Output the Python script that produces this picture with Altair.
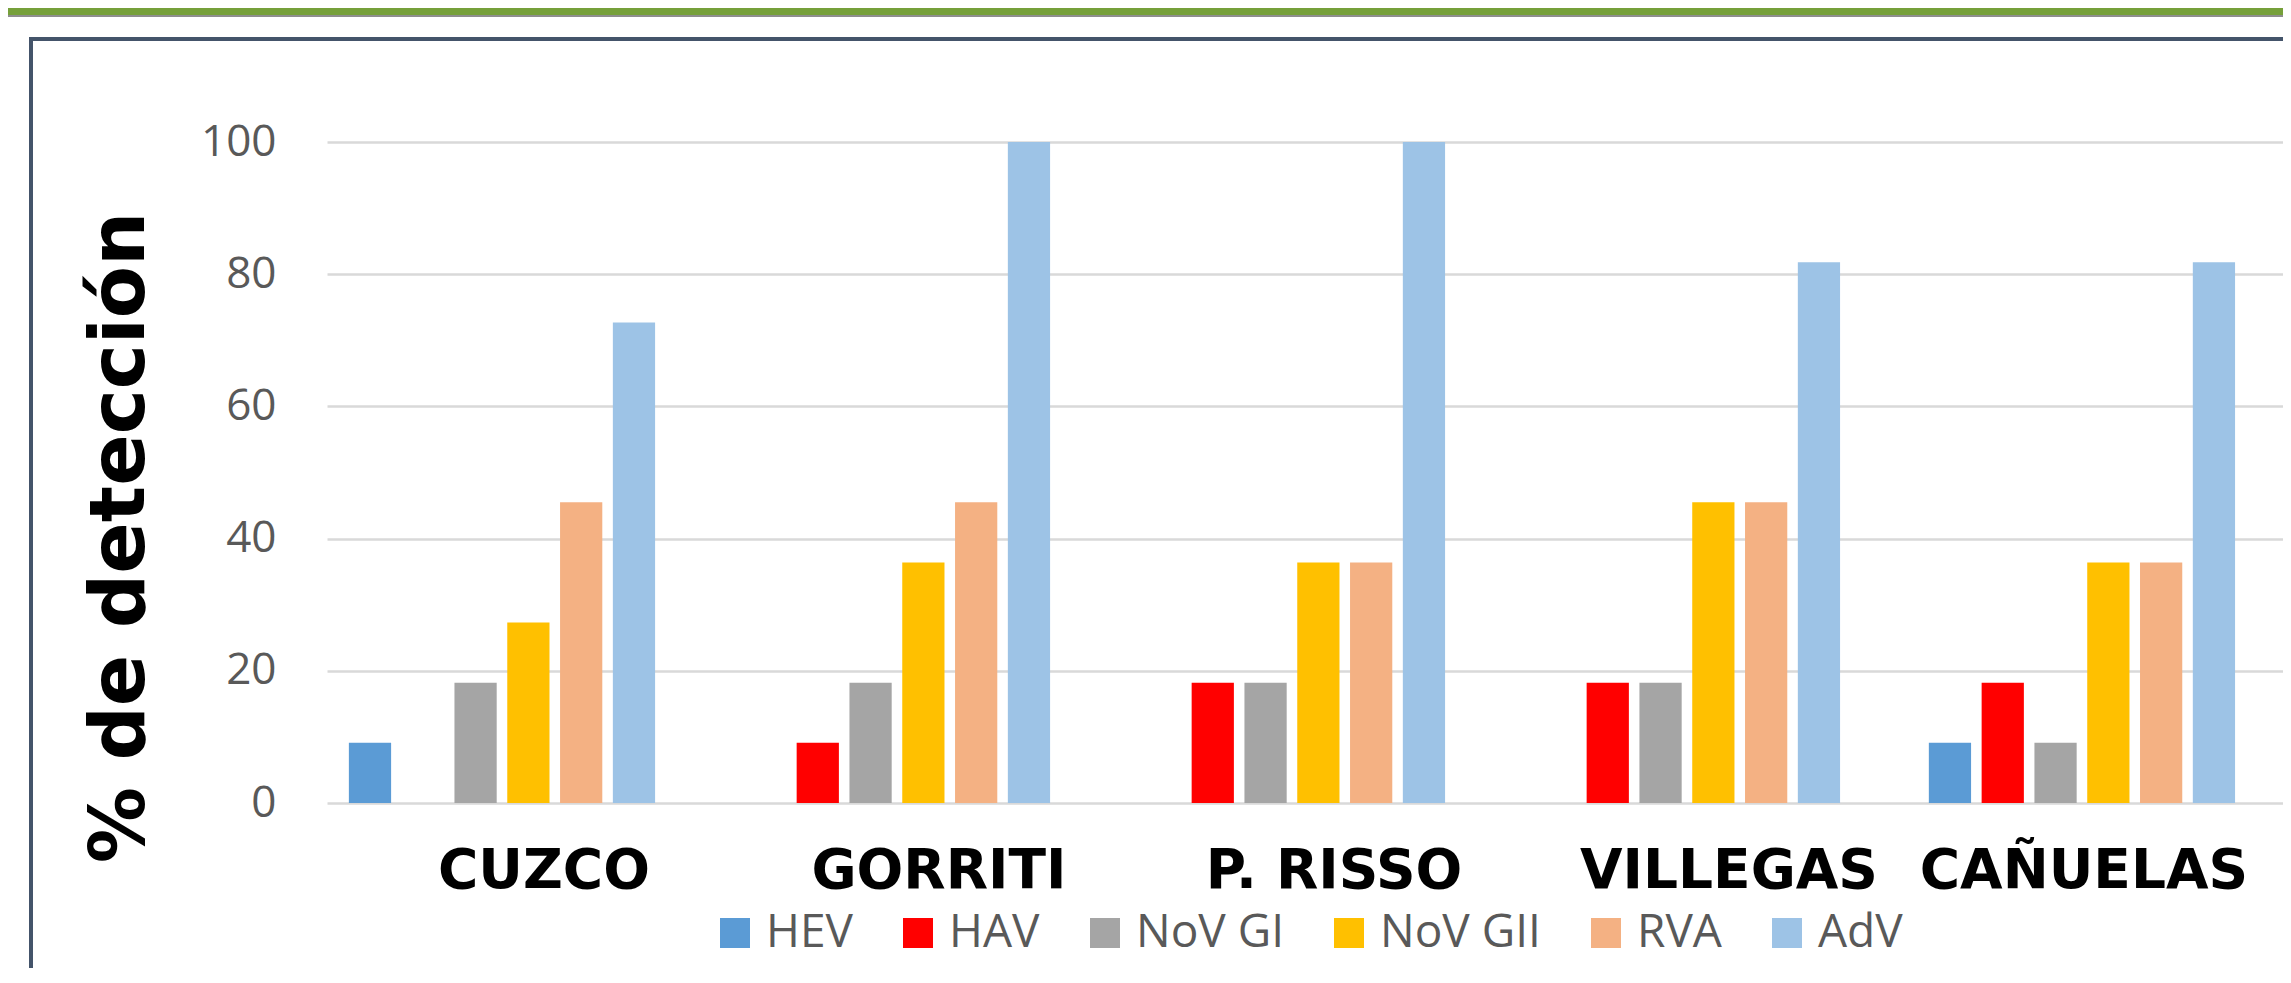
import altair as alt
import pandas as pd

sites = ["CUZCO", "GORRITI", "P. RISSO", "VILLEGAS", "CAÑUELAS"]
viruses = ["HEV", "HAV", "NoV GI", "NoV GII", "RVA", "AdV"]
colors = ["#5B9BD5", "#FF0000", "#A5A5A5", "#FFC000", "#F4B183", "#9DC3E6"]

hev = [9.1, 0, 0, 0, 9.1]
hav = [0, 9.1, 18.2, 18.2, 18.2]
nov_gi = [18.2, 18.2, 18.2, 18.2, 9.1]
nov_gii = [27.3, 36.4, 36.4, 45.5, 36.4]
rva = [45.5, 45.5, 36.4, 45.5, 36.4]
adv = [72.7, 100, 100, 81.8, 81.8]

y_ticks = [0, 20, 40, 60, 80, 100]
y_title = "% de detección"

series = [hev, hav, nov_gi, nov_gii, rva, adv]
rows = []
for v, vals in zip(viruses, series):
    for s, val in zip(sites, vals):
        rows.append({"site": s, "virus": v, "value": val})
df = pd.DataFrame(rows)

W, H = 1956, 661
PL, PT = 319, 134

deco_df = pd.DataFrame({"k": [0]})
base_deco = alt.Chart(deco_df)

green = base_deco.mark_rect(color="#76A03A").encode(
    x=alt.value(-PL), x2=alt.value(W + 10), y=alt.value(-PT), y2=alt.value(-PT + 7)
)
gray = base_deco.mark_rect(color="#8E8E8E").encode(
    x=alt.value(-PL), x2=alt.value(W + 10), y=alt.value(-PT + 7), y2=alt.value(-PT + 9)
)
border = base_deco.mark_rect(filled=False, stroke="#44546A", strokeWidth=4).encode(
    x=alt.value(-296), x2=alt.value(W + 60), y=alt.value(-103), y2=alt.value(H + 250)
)

bars = alt.Chart(df).mark_bar().encode(
    x=alt.X(
        "site:N",
        sort=sites,
        title=None,
        scale=alt.Scale(paddingInner=0.198, paddingOuter=0.075, align=0.28),
        axis=alt.Axis(
            domain=False,
            ticks=False,
            grid=False,
            labelAngle=0,
            labelFont="DejaVu Sans",
            labelFontWeight="bold",
            labelFontSize=55,
            labelColor="#000000",
            labelPadding=41,
            labelOffset={
                "condition": {"test": "datum.value === 'CAÑUELAS'", "value": 2},
                "value": 42,
            },
            labelLimit=1000,
            labelOverlap=False,
        ),
    ),
    xOffset=alt.XOffset(
        "virus:N", sort=viruses, scale=alt.Scale(paddingInner=0.2, paddingOuter=0.1)
    ),
    y=alt.Y(
        "value:Q",
        scale=alt.Scale(domain=[0, 100], nice=False),
        axis=alt.Axis(
            values=y_ticks,
            grid=True,
            gridColor="#D9D9D9",
            gridWidth=2.5,
            domain=False,
            ticks=False,
            labelFont="Open Sans",
            labelFontSize=44,
            labelColor="#595959",
            labelPadding=51,
            title=y_title,
            titleFont="DejaVu Sans",
            titleFontWeight="bold",
            titleFontSize=76,
            titleColor="#000000",
            titleAngle=270,
            titleAlign="center",
            titleBaseline="middle",
            titleX=-207,
            titleY=395,
            titleLimit=2000,
        ),
    ),
    color=alt.Color(
        "virus:N",
        sort=viruses,
        scale=alt.Scale(domain=viruses, range=colors),
        legend=alt.Legend(
            title=None,
            orient="none",
            direction="horizontal",
            legendX=385,
            legendY=768,
            symbolType="square",
            symbolSize=900,
            symbolStrokeWidth=0,
            labelFont="Open Sans",
            labelFontSize=46,
            labelColor="#595959",
            labelOffset=8,
            labelLimit=600,
            columnPadding=42,
            padding=0,
        ),
    ),
)

chart = (
    alt.layer(green, gray, border, bars)
    .properties(
        width=W,
        height=H,
        autosize=alt.AutoSizeParams(type="none"),
        padding={"left": PL, "top": PT, "right": 0, "bottom": 165},
        background="#FFFFFF",
    )
    .configure_view(stroke=None)
)

chart.save("out.html", embed_options={"renderer": "svg", "actions": False})
